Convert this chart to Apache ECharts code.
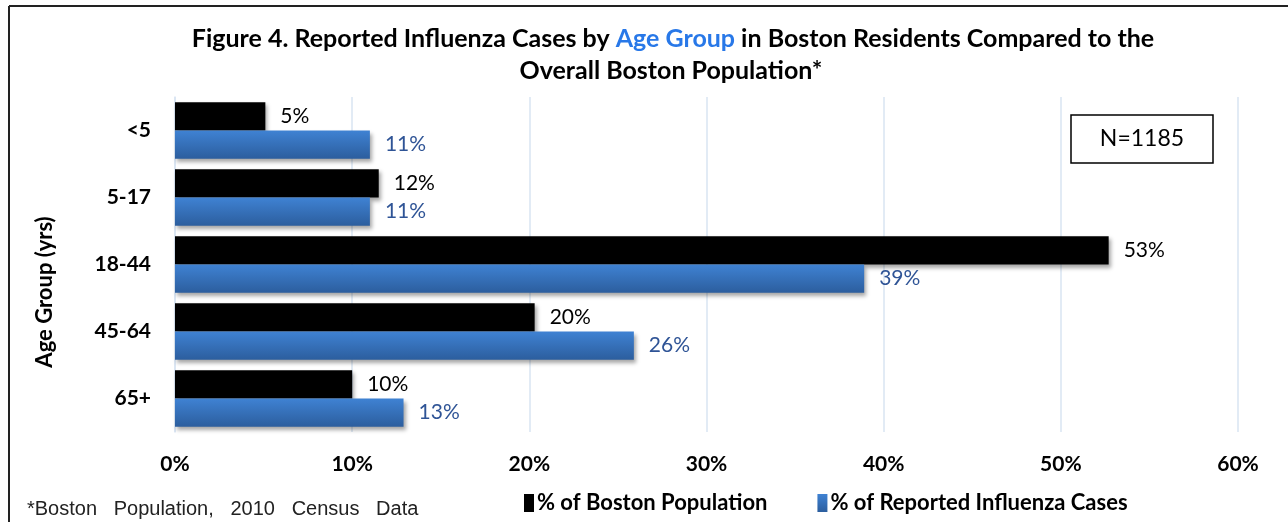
<!DOCTYPE html>
<html><head><meta charset="utf-8">
<script src="https://cdn.jsdelivr.net/npm/echarts@6/dist/echarts.min.js"></script>
<style>html,body{margin:0;padding:0;background:#fff}#c{width:1288px;height:522px}</style>
</head><body><div id="c"></div>
<script>
const categories = ['<5', '5-17', '18-44', '45-64', '65+'];
const populationPct = [5.1, 11.5, 52.7, 20.3, 10.0];
const influenzaPct = [11.0, 11.0, 38.9, 25.9, 12.9];
const xTicks = [0, 10, 20, 30, 40, 50, 60];

const chart = echarts.init(document.getElementById('c'));
const F = 'Lato, "Noto Sans", sans-serif';
chart.setOption({
  animation: false,
  backgroundColor: '#fff',
  legend: {
    left: 519, top: 487, itemWidth: 10, itemHeight: 18, itemGap: 50,
    icon: 'rect',
    textStyle: {fontFamily: F, fontWeight: 'bold', fontSize: 22, color: '#000', padding: [0,0,0,-2]},
    data: ['% of Boston Population', '% of Reported Influenza Cases']
  },
  grid: {left: 175, right: 50, top: 97, bottom: 90, containLabel: false},
  xAxis: {
    type: 'value', min: 0, max: 60, interval: 10,
    axisLine: {show: false}, axisTick: {show: false},
    splitLine: {lineStyle: {color: '#d9e4f2', width: 1.5}},
    axisLabel: {formatter: v => xTicks.includes(v) ? v + '%' : '', fontFamily: F, fontWeight: 'bold', fontSize: 21, color: '#000', margin: 22}
  },
  yAxis: {
    type: 'category', data: categories, inverse: true,
    axisLine: {show: true, lineStyle: {color: '#d9e4f2', width: 1.5}},
    axisTick: {show: false},
    axisLabel: {fontFamily: F, fontWeight: 'bold', fontSize: 21, color: '#000', margin: 24}
  },
  series: [
    {
      name: '% of Boston Population', type: 'bar', data: populationPct,
      barGap: '0%', barCategoryGap: '16%',
      itemStyle: {color: '#000', shadowColor: 'rgba(0,0,0,0.35)', shadowBlur: 4, shadowOffsetX: 2, shadowOffsetY: 3},
      label: {show: true, position: 'right', distance: 15, formatter: p => Math.round(p.value) + '%', fontFamily: F, fontSize: 21, color: '#000'}
    },
    {
      name: '% of Reported Influenza Cases', type: 'bar', data: influenzaPct,
      barGap: '0%', barCategoryGap: '16%',
      itemStyle: {
        color: new echarts.graphic.LinearGradient(0, 0, 0, 1, [{offset: 0, color: '#3f82d3'}, {offset: 1, color: '#2c5e9e'}]),
        shadowColor: 'rgba(0,0,0,0.35)', shadowBlur: 4, shadowOffsetX: 2, shadowOffsetY: 3
      },
      label: {show: true, position: 'right', distance: 15, formatter: p => Math.round(p.value) + '%', fontFamily: F, fontSize: 21, color: '#2f5496'}
    }
  ],
  graphic: [
    {type: 'line', shape: {x1: 9, y1: 6, x2: 1288, y2: 6}, style: {stroke: '#222', lineWidth: 2}},
    {type: 'line', shape: {x1: 9, y1: 6, x2: 9, y2: 522}, style: {stroke: '#222', lineWidth: 2}},
    {type: 'text', x: 673, y: 39, style: {
      text: '{b|Figure 4. Reported Influenza Cases by }{a|Age Group}{b| in Boston Residents Compared to the}',
      align: 'center', verticalAlign: 'middle',
      rich: {
        a: {fontFamily: F, fontWeight: 'bold', fontSize: 25, fill: '#2878e8'},
        b: {fontFamily: F, fontWeight: 'bold', fontSize: 25, fill: '#000'}
      }
    }},
    {type: 'text', x: 671, y: 71, style: {text: 'Overall Boston Population*', align: 'center', verticalAlign: 'middle', fontFamily: F, fontWeight: 'bold', fontSize: 25, fill: '#000'}},
    {type: 'text', x: 45, y: 292, rotation: Math.PI / 2, style: {text: 'Age Group (yrs)', align: 'center', verticalAlign: 'middle', fontFamily: F, fontWeight: 'bold', fontSize: 22, fill: '#000'}},
    {type: 'rect', shape: {x: 1071, y: 115, width: 142, height: 48}, style: {fill: '#fff', stroke: '#000', lineWidth: 1.5}, z: 10},
    {type: 'text', x: 1142, y: 139, style: {text: 'N=1185', align: 'center', verticalAlign: 'middle', fontFamily: F, fontSize: 23, fill: '#000'}, z: 11},
    {type: 'text', x: 27, y: 509, style: {text: '*Boston   Population,   2010   Census   Data', verticalAlign: 'middle', fontFamily: '"Liberation Sans", Arial, sans-serif', fontSize: 20, fill: '#222'}}
  ]
});
</script></body></html>
